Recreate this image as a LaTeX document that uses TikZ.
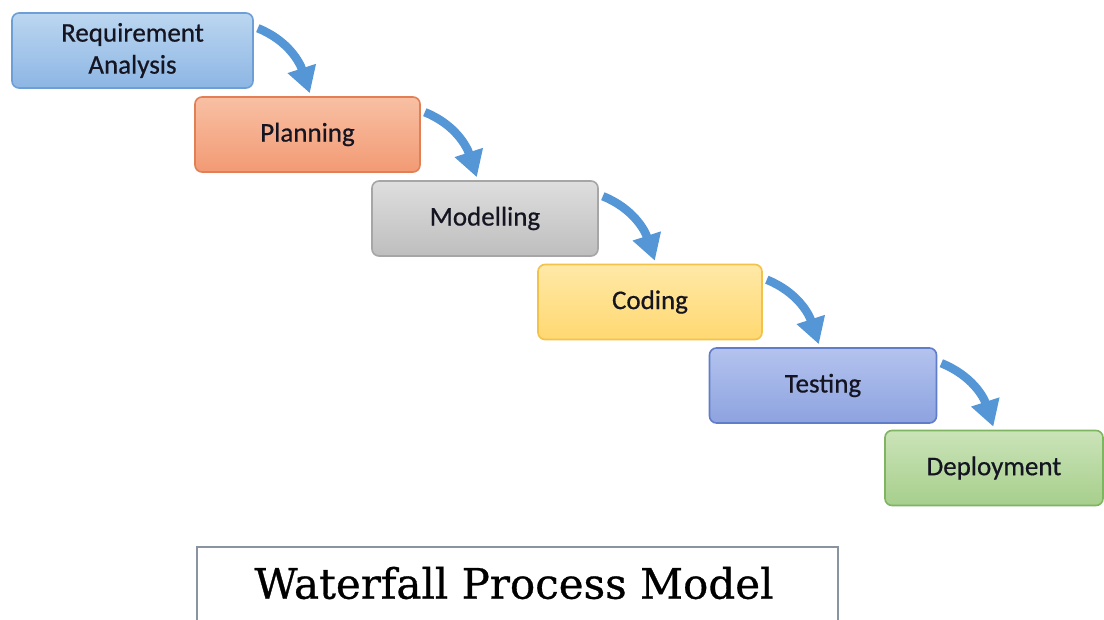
\documentclass[tikz,border=0pt]{standalone}
\usepackage{fontspec}
\setmainfont{Carlito}
\newfontfamily\boxfont[FakeBold=0.6]{Carlito}
\newfontfamily\titlefont[FakeBold=0.7]{DejaVu Serif}
\usetikzlibrary{arrows.meta,calc}
\definecolor{arrowblue}{HTML}{5596D6}
\definecolor{txt}{HTML}{151522}
\definecolor{reqd}{HTML}{6D9FD6}\definecolor{reqt}{HTML}{BBD6F0}\definecolor{reqb}{HTML}{8DB6E4}
\definecolor{pland}{HTML}{E27F55}\definecolor{plant}{HTML}{F8C0A4}\definecolor{planb}{HTML}{F29A74}
\definecolor{modd}{HTML}{A6A6A6}\definecolor{modt}{HTML}{DEDEDE}\definecolor{modb}{HTML}{BEBEBE}
\definecolor{codd}{HTML}{F2C24A}\definecolor{codt}{HTML}{FFE9A8}\definecolor{codb}{HTML}{FFD870}
\definecolor{tesd}{HTML}{5F7DC8}\definecolor{test}{HTML}{B4C3EE}\definecolor{tesb}{HTML}{8DA3E0}
\definecolor{depd}{HTML}{7FB463}\definecolor{dept}{HTML}{CBE3B8}\definecolor{depb}{HTML}{A6CF8C}
\definecolor{titled}{HTML}{8A94A0}
\tikzset{
  stagebox/.style={draw, line width=1.6pt, rounded corners=7pt, minimum height=75pt,
    align=center, text=txt, font=\boxfont\fontsize{27}{32}\selectfont, inner sep=2pt},
  flowarrow/.style={draw=arrowblue, line width=8.5pt,
    -{Triangle[length=26pt,width=28pt]}},
}
\begin{document}
\begin{tikzpicture}[x=1pt,y=-1pt]
\useasboundingbox (0,0) rectangle (1104,619);
\fill[white] (0,0) rectangle (1104,619);
\node[stagebox, minimum width=241pt, draw=reqd, top color=reqt, bottom color=reqb] (b1) at (132.5,50.5) {Requirement\\Analysis};
\node[stagebox, minimum width=225pt, draw=pland, top color=plant, bottom color=planb] (b2) at (307.5,134.5) {Planning};
\node[stagebox, minimum width=226pt, draw=modd, top color=modt, bottom color=modb] (b3) at (485,218.5) {Modelling};
\node[stagebox, minimum width=224pt, draw=codd, top color=codt, bottom color=codb] (b4) at (650,302) {Coding};
\node[stagebox, minimum width=227pt, draw=tesd, top color=test, bottom color=tesb] (b5) at (823,385.5) {Testing};
\node[stagebox, minimum width=218pt, draw=depd, top color=dept, bottom color=depb] (b6) at (994,468) {Deployment};
\foreach \a/\b in {b1/b2,b2/b3,b3/b4,b4/b5,b5/b6}{
  \coordinate (s) at ($(\a.north east)+(4,16)$);
  \coordinate (t) at ($(s)+(52,0)$);
  \draw[flowarrow] (s) to[out=-22,in=108] ($(t |- \b.north)+(0,-3)$);
}
\node[font=\titlefont\fontsize{42}{44}\selectfont, text=black] (title) at (514,583) {Waterfall Process Model};
\draw[titled, line width=1.2pt] (197,620) -- (197,547) -- (838,547) -- (838,620);
\end{tikzpicture}
\end{document}
